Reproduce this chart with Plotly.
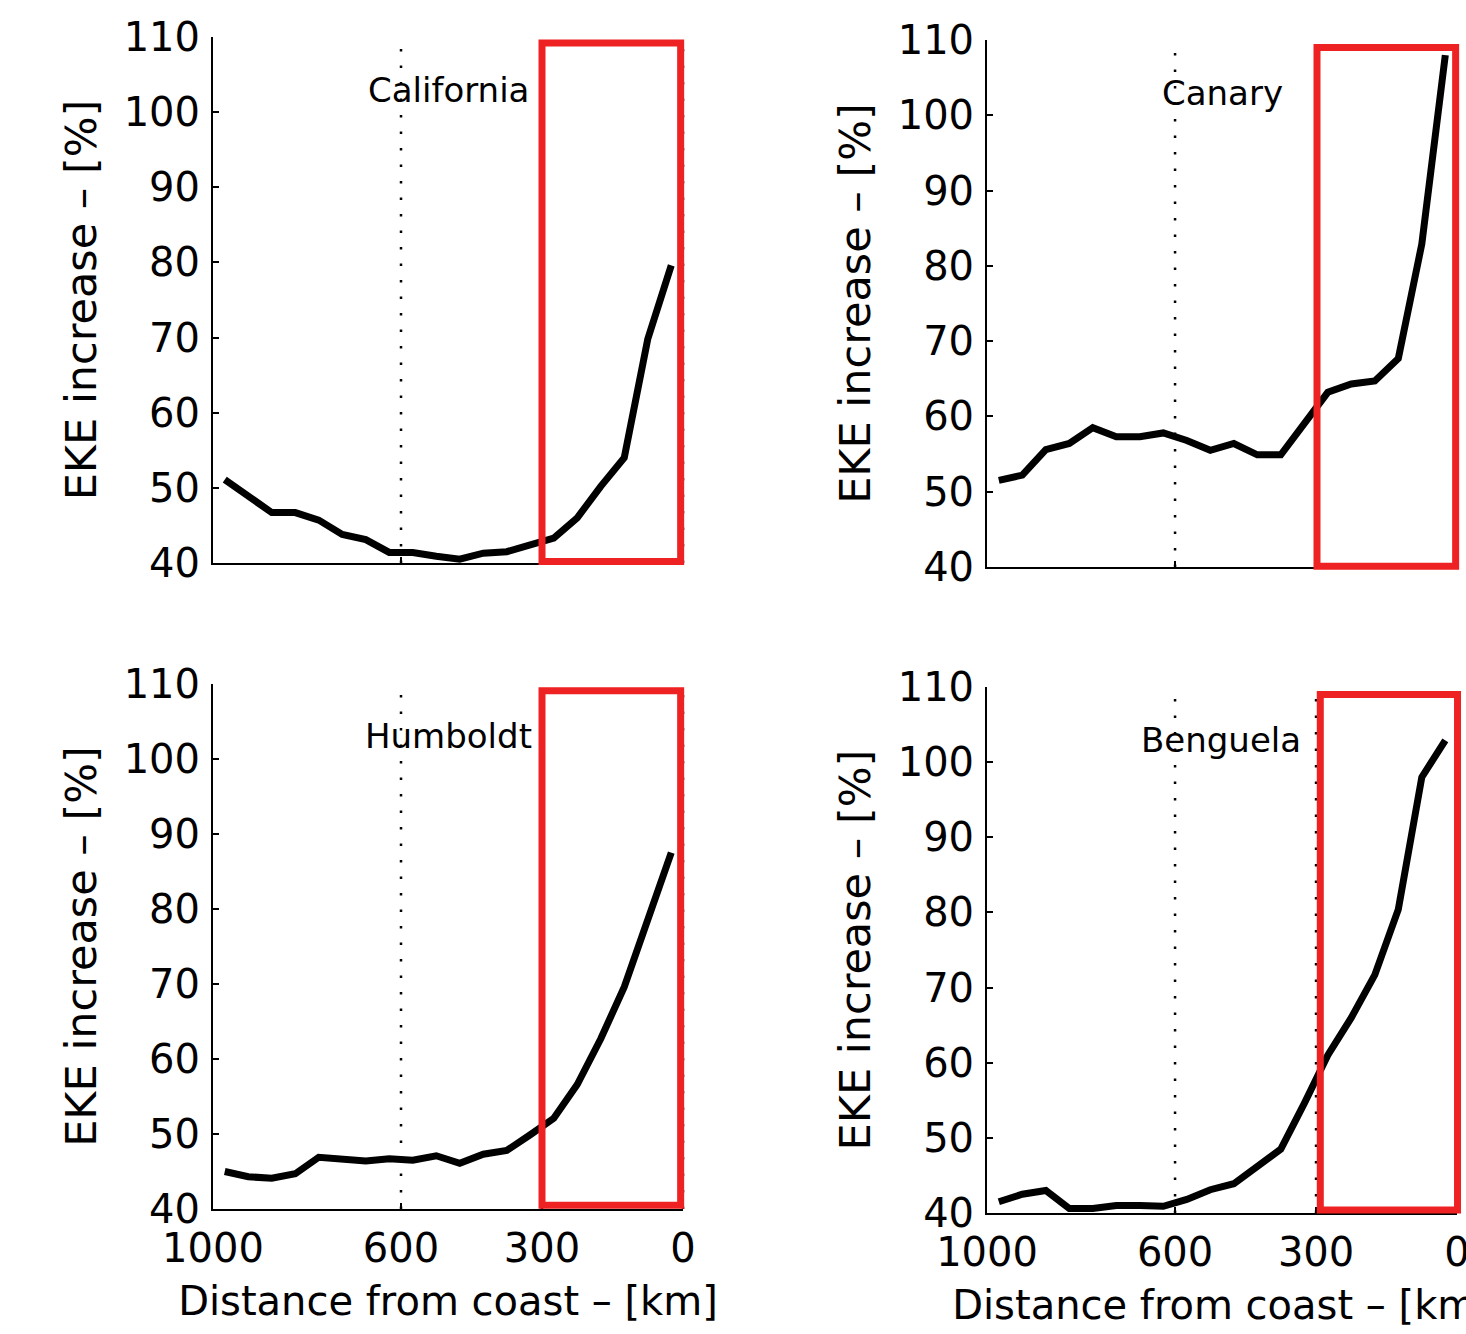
import plotly.graph_objects as go

# ---------------- data ----------------
distance_km = [975, 925, 875, 825, 775, 725, 675, 625, 575, 525,
               475, 425, 375, 325, 275, 225, 175, 125, 75, 25]
california = [51.1, 48.9, 46.7, 46.7, 45.7, 43.8, 43.1, 41.4, 41.4, 40.9,
              40.5, 41.3, 41.5, 42.4, 43.3, 46.0, 50.2, 54.0, 69.8, 79.6]
canary = [51.5, 52.2, 55.6, 56.4, 58.5, 57.3, 57.3, 57.8, 56.8, 55.5,
          56.4, 54.9, 54.9, 59.2, 63.2, 64.3, 64.7, 67.7, 82.9, 108.0]
humboldt = [45.0, 44.3, 44.1, 44.7, 46.9, 46.7, 46.4, 46.7, 46.5, 47.1,
            46.1, 47.3, 47.8, 49.9, 52.1, 56.6, 62.7, 69.6, 78.8, 87.5]
benguela = [41.5, 42.5, 43.0, 40.6, 40.6, 41.0, 41.0, 40.9, 41.8, 43.1,
            43.9, 46.1, 48.5, 54.6, 61.0, 66.0, 71.7, 80.4, 98.0, 102.9]

region_names = ["California", "Canary", "Humboldt", "Benguela"]
series = [california, canary, humboldt, benguela]

x_tick_vals = [1000, 600, 300, 0]
x_tick_text = ["1000", "600", "300", "0"]
y_tick_vals = [40, 50, 60, 70, 80, 90, 100, 110]
ref_lines_km = [600, 300, 0]

# highlighted coastal band (km range, % range) per panel
box_km = [(300, 5), (298, 3), (300, 5), (291, -1)]
box_pct = [(40.2, 109.2), (40.1, 109.0), (40.5, 109.1), (40.4, 109.0)]
label_pos = [(500, 103), (500, 103), (500, 103), (502, 103)]

# ---------------- layout ----------------
X_RANGE = [1000, 0]
Y_RANGE = [40, 110]
domains = [
    ([0.1453, 0.4659], [0.5780, 0.9723]),
    ([0.6733, 0.9939], [0.5750, 0.9700]),
    ([0.1453, 0.4659], [0.0937, 0.4873]),
    ([0.6733, 0.9939], [0.0907, 0.4850]),
]

FONT = "DejaVu Sans"
RED = "#EE2222"


def xdom(km):
    return (X_RANGE[0] - km) / (X_RANGE[0] - X_RANGE[1])


def ydom(v):
    return (v - Y_RANGE[0]) / (Y_RANGE[1] - Y_RANGE[0])


fig = go.Figure()
layout = dict(
    width=1466, height=1334,
    margin=dict(l=0, r=0, t=0, b=0),
    paper_bgcolor="white", plot_bgcolor="white",
    showlegend=False,
    font=dict(family=FONT, size=40, color="black"),
    shapes=[], annotations=[],
)

for i, (name, vals) in enumerate(zip(region_names, series)):
    n = "" if i == 0 else str(i + 1)
    xa, ya = "x" + n, "y" + n
    fig.add_trace(go.Scatter(
        x=distance_km, y=vals, mode="lines", xaxis=xa, yaxis=ya,
        line=dict(color="black", width=7), name=name,
    ))
    xd, yd = domains[i]
    bottom = i >= 2
    layout["xaxis" + n] = dict(
        domain=xd, anchor=ya, range=X_RANGE, autorange=False,
        tickmode="array", tickvals=x_tick_vals, ticktext=x_tick_text,
        ticks="inside", ticklen=6, tickwidth=2, tickcolor="black",
        showline=True, linecolor="black", linewidth=2, mirror=False,
        showgrid=False, zeroline=False, automargin=False,
        showticklabels=bottom, ticklabelstandoff=3,
        ticklabeloverflow="allow",
        tickfont=dict(family=FONT, size=40, color="black"),
        title=dict(text="Distance from coast – [km]" if bottom else "",
                   font=dict(family=FONT, size=40, color="black"), standoff=17),
    )
    layout["yaxis" + n] = dict(
        domain=yd, anchor=xa, range=Y_RANGE, autorange=False,
        tickmode="array", tickvals=y_tick_vals,
        ticks="inside", ticklen=6, tickwidth=2, tickcolor="black",
        showline=True, linecolor="black", linewidth=2, mirror=False,
        showgrid=False, zeroline=False, automargin=False,
        ticklabelstandoff=3, ticklabeloverflow="allow",
        tickfont=dict(family=FONT, size=40, color="black"),
        title=dict(text="EKE increase – [%]",
                   font=dict(family=FONT, size=43, color="black"), standoff=14),
    )
    # dotted reference lines
    for km in ref_lines_km:
        layout["shapes"].append(dict(
            type="line", xref=xa + " domain", yref=ya + " domain",
            x0=xdom(km), x1=xdom(km), y0=0, y1=ydom(109),
            line=dict(color="black", width=2.5, dash="2.5px,14px"),
            layer="below",
        ))
    # red highlight box
    (k0, k1), (p0, p1) = box_km[i], box_pct[i]
    layout["shapes"].append(dict(
        type="rect", xref=xa + " domain", yref=ya + " domain",
        x0=xdom(k0), x1=xdom(k1), y0=ydom(p0), y1=ydom(p1),
        line=dict(color=RED, width=7), fillcolor="rgba(0,0,0,0)",
        layer="above",
    ))
    lx, ly = label_pos[i]
    layout["annotations"].append(dict(
        text=name, x=lx, y=ly, xref=xa, yref=ya, showarrow=False,
        xanchor="center", yanchor="middle",
        font=dict(family=FONT, size=34, color="black"),
    ))

fig.update_layout(**layout)
fig.write_html("out.html")
